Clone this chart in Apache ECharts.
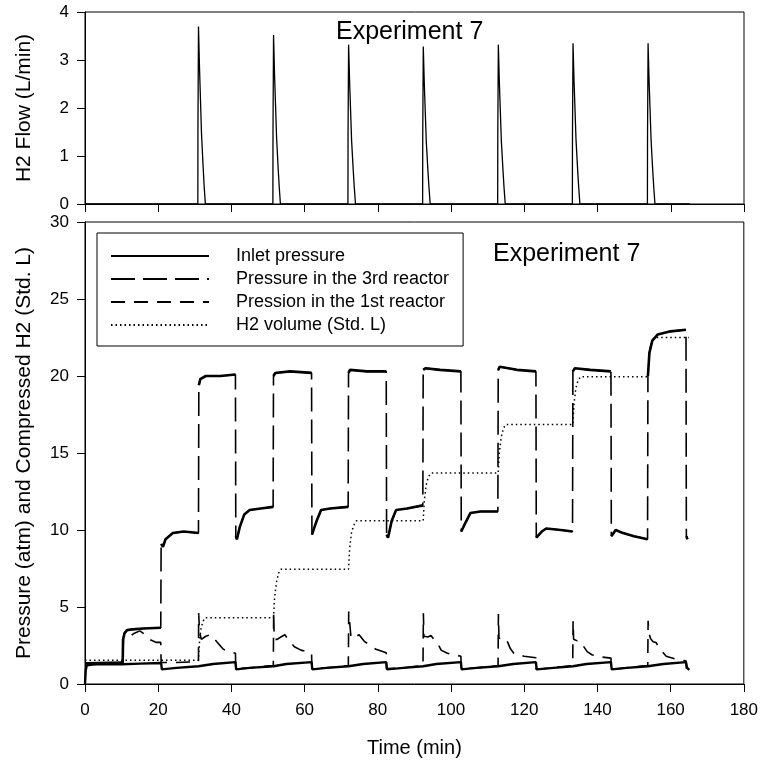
<!DOCTYPE html>
<html>
<head>
<meta charset="utf-8">
<script src="https://cdn.jsdelivr.net/npm/echarts@6/dist/echarts.min.js"></script>
<style>
  html, body { margin: 0; padding: 0; background: #fff; }
  #chart { width: 761px; height: 763px; }
</style>
</head>
<body>
<div id="chart"></div>
<script>
/*
 Experiment 7 : H2 flow (top) and pressures / compressed H2 (bottom)
 all points are [time (min), value]
*/

var xTicks = [0, 20, 40, 60, 80, 100, 120, 140, 160, 180];

// top panel, H2 flow (L/min)
var flowPoints = [
    [0, 0], [30.82, 0], [30.85, 1.55], [31.0, 3.7], [31.27, 2.86], [31.55, 2.15], [31.82, 1.47], [32.27, 0.77], [32.55, 0.36], [32.82, 0.33], [32.88, 0],
    [51.32, 0], [51.35, 1.5], [51.5, 3.52], [51.77, 2.7], [52.05, 2.05], [52.32, 1.4], [52.77, 0.73], [53.05, 0.36], [53.32, 0.33], [53.38, 0],
    [71.82, 0], [71.85, 1.45], [72.0, 3.32], [72.27, 2.56], [72.55, 1.93], [72.82, 1.32], [73.27, 0.7], [73.55, 0.35], [73.82, 0.33], [73.88, 0],
    [92.22, 0], [92.25, 1.4], [92.4, 3.28], [92.67, 2.52], [92.95, 1.9], [93.22, 1.3], [93.67, 0.69], [93.95, 0.35], [94.22, 0.33], [94.28, 0],
    [112.72, 0], [112.75, 1.4], [112.9, 3.32], [113.17, 2.55], [113.45, 1.92], [113.72, 1.32], [114.17, 0.7], [114.45, 0.35], [114.72, 0.33], [114.78, 0],
    [133.12, 0], [133.15, 1.4], [133.3, 3.35], [133.57, 2.58], [133.85, 1.95], [134.12, 1.33], [134.57, 0.7], [134.85, 0.35], [135.12, 0.33], [135.18, 0],
    [153.62, 0], [153.65, 1.4], [153.8, 3.35], [154.07, 2.58], [154.35, 1.95], [154.62, 1.33], [155.07, 0.7], [155.35, 0.35], [155.62, 0.33], [155.68, 0],
    [165.2, 0]
];

// bottom panel
var inletPoints = [
    [0, 0], [0.2, 0.9], [0.5, 1.22], [2, 1.26], [5, 1.3], [10, 1.28], [15, 1.32], [20.8, 1.36],
    [21.0, 0.95], [25, 1.05], [31, 1.15], [35, 1.3], [41.1, 1.42],
    [41.3, 0.95], [45, 1.05], [51.5, 1.15], [55, 1.3], [61.9, 1.42],
    [62.1, 0.95], [66, 1.05], [72, 1.15], [76, 1.3], [82.3, 1.42],
    [82.5, 0.95], [87, 1.05], [92.4, 1.15], [96, 1.3], [102.7, 1.42],
    [102.9, 0.95], [107, 1.05], [112.9, 1.15], [117, 1.3], [123.2, 1.42],
    [123.4, 0.95], [128, 1.05], [133.3, 1.15], [137, 1.3], [143.7, 1.42],
    [143.9, 0.95], [148, 1.05], [153.8, 1.15], [158, 1.3], [164.2, 1.42],
    [164.5, 1.05], [165.1, 0.92]
];

var reactor3Points = [
    [0.3, 1.35], [10.3, 1.4], [10.4, 2.9], [10.8, 3.3], [11.5, 3.5], [13, 3.55], [16, 3.6], [20.7, 3.65],
    [20.8, 9.1], [21.3, 8.9], [22, 9.4], [24, 9.8], [27, 9.9], [31.0, 9.8],
    [31.1, 19.4], [31.5, 19.8], [33, 20.0], [37, 20.0], [41.1, 20.1],
    [41.2, 9.6], [41.5, 9.4], [42.3, 10.2], [43.5, 11.0], [45, 11.3], [48, 11.4], [51.4, 11.5],
    [51.5, 20.0], [52, 20.2], [56, 20.3], [61.9, 20.2],
    [62.0, 9.7], [62.3, 9.6], [63.3, 10.6], [64.5, 11.3], [67, 11.4], [71.9, 11.5],
    [72.0, 20.2], [72.4, 20.4], [77, 20.3], [82.3, 20.3],
    [82.4, 9.7], [82.8, 9.5], [83.8, 10.6], [85, 11.3], [88, 11.4], [92.3, 11.6],
    [92.4, 20.4], [93, 20.5], [97, 20.4], [102.7, 20.3],
    [102.8, 9.9], [103.2, 9.8], [104, 10.5], [105.3, 11.1], [108, 11.2], [112.8, 11.2],
    [112.9, 20.4], [113.3, 20.6], [118, 20.4], [123.2, 20.3],
    [123.3, 9.5], [123.8, 9.4], [124.8, 9.9], [126, 10.1], [130, 10.0], [133.2, 9.9],
    [133.3, 20.3], [133.8, 20.5], [138, 20.4], [143.7, 20.3],
    [143.8, 9.6], [144.3, 9.6], [145, 10.0], [147, 9.8], [150, 9.6], [153.7, 9.4],
    [153.8, 20.0], [154.2, 21.5], [155, 22.3], [156.5, 22.7], [160, 22.9], [164.2, 23.0],
    [164.3, 9.6], [164.6, 9.4]
];

var reactor1Points = [
    [0.3, 1.35], [10.3, 1.4], [10.5, 2.9], [12, 3.05], [13.5, 3.3], [15, 3.45], [16.5, 3.2], [18, 2.85], [19.5, 2.7], [20.7, 2.7],
    [20.8, 1.4], [25, 1.4], [31.0, 1.45],
    [31.05, 4.6], [31.3, 3.4], [31.8, 2.9], [33, 3.1], [34.4, 3.2], [36, 2.75], [37.6, 2.3], [38.5, 2.15], [41.1, 2.0],
    [41.2, 1.0], [45, 1.05], [51.45, 1.2],
    [51.55, 4.7], [51.7, 2.9], [52.5, 2.9], [53.5, 3.05], [54.6, 3.2], [55.5, 2.9], [57.2, 2.42], [59, 2.2], [61.9, 2.02],
    [62.0, 1.0], [66, 1.05], [71.95, 1.2],
    [72.05, 4.7], [72.7, 2.97], [73.8, 3.05], [74.9, 3.2], [76.3, 2.77], [77.7, 2.55], [79.5, 2.25], [82.3, 2.03],
    [82.4, 1.0], [87, 1.05], [92.35, 1.2],
    [92.45, 4.6], [92.6, 3.1], [93.7, 3.05], [94.5, 3.15], [95.3, 2.9], [96, 2.8], [97.3, 2.2], [99, 2.0], [102.7, 1.8],
    [102.8, 1.0], [107, 1.05], [112.85, 1.2],
    [112.95, 4.55], [113.1, 3.0], [114, 2.9], [115, 2.95], [115.5, 2.7], [116.2, 2.3], [117.3, 1.95], [120, 1.8], [123.2, 1.7],
    [123.3, 0.95], [128, 1.05], [133.25, 1.2],
    [133.35, 4.1], [133.5, 2.9], [134.5, 2.8], [135.5, 2.75], [136.2, 2.45], [137.2, 2.1], [138.5, 1.9], [140, 1.78], [143.7, 1.68],
    [143.8, 0.95], [148, 1.05], [153.75, 1.2],
    [153.85, 4.1], [154.1, 3.3], [154.5, 2.95], [155.2, 2.75], [156, 2.7], [157, 2.3], [158.8, 1.8], [161.6, 1.6], [164.2, 1.5],
    [164.3, 1.0]
];

var h2VolumePoints = [
    [0, 1.55], [31.0, 1.55], [31.3, 2.8], [31.7, 3.6], [32.2, 4.05], [32.8, 4.3], [51.5, 4.3],
    [51.8, 5.6], [52.3, 6.6], [52.9, 7.2], [53.5, 7.45], [72.0, 7.45],
    [72.3, 8.8], [72.8, 9.8], [73.4, 10.3], [74.2, 10.6], [92.4, 10.6],
    [92.7, 11.9], [93.2, 12.9], [93.8, 13.45], [94.6, 13.7], [112.9, 13.7],
    [113.2, 15.0], [113.7, 16.0], [114.3, 16.6], [115, 16.85], [133.3, 16.85],
    [133.6, 18.2], [134.1, 19.2], [134.7, 19.7], [135.4, 19.95], [153.8, 19.95],
    [154.1, 21.2], [154.5, 21.9], [155, 22.3], [155.6, 22.5], [165, 22.5]
];

var legendNames = ['Inlet pressure', 'Pressure in the 3rd reactor', 'Pression in the 1st reactor', 'H2 volume (Std. L)'];

var FONT = '"Liberation Sans", Arial, sans-serif';

// the noisy plateaus of the 3rd reactor look solid in the original:
// keep only the slow parts, break the line at the big jumps
function slowParts(points, jump){
    var out = [];
    for (var i = 0; i < points.length; i ++){
        if (i > 0 && Math.abs(points[i][1] - points[i - 1][1]) > jump)
            out.push([null, null]);
        out.push(points[i]);
    }
    return out;
}

function xAxisOf(idx, withLabels){
    return {
        type: 'value',
        gridIndex: idx,
        min: xTicks[0],
        max: xTicks[xTicks.length - 1],
        interval: xTicks[1] - xTicks[0],
        axisLine: {lineStyle: {color: '#000', width: 1}},
        axisTick: {show: true, inside: false, length: 8, lineStyle: {color: '#000'}},
        axisLabel: {show: withLabels, color: '#000', fontSize: 17, fontFamily: FONT, margin: 18},
        splitLine: {show: false},
        name: withLabels ? 'Time (min)' : '',
        nameLocation: 'middle',
        nameGap: 54,
        nameTextStyle: {color: '#000', fontSize: 20, fontFamily: FONT}
    };
}

function yAxisOf(idx, max, step, title){
    return {
        type: 'value',
        gridIndex: idx,
        min: 0,
        max: max,
        interval: step,
        axisLine: {show: true, lineStyle: {color: '#000', width: 1}},
        axisTick: {show: true, inside: false, length: 8, lineStyle: {color: '#000'}},
        axisLabel: {color: '#000', fontSize: 17, fontFamily: FONT, margin: 16},
        splitLine: {show: false},
        name: title,
        nameLocation: 'middle',
        nameGap: 50,
        nameTextStyle: {color: '#000', fontSize: 21, fontFamily: FONT}
    };
}

function lineSeries(name, points, axisIdx, dash, width){
    return {
        name: name,
        type: 'line',
        xAxisIndex: axisIdx,
        yAxisIndex: axisIdx,
        data: points,
        symbol: 'none',
        silent: true,
        color: '#000',
        connectNulls: false,
        lineStyle: {color: '#000', width: width, type: dash}
    };
}

var option = {
    animation: false,
    backgroundColor: '#fff',
    grid: [
        {left: 85, right: 17, top: 12, height: 192, show: true, borderColor: '#000', borderWidth: 1},
        {left: 85, right: 17, top: 222, height: 462, show: true, borderColor: '#000', borderWidth: 1}
    ],
    xAxis: [xAxisOf(0, false), xAxisOf(1, true)],
    yAxis: [
        yAxisOf(0, 4, 1, 'H2 Flow (L/min)'),
        yAxisOf(1, 30, 5, 'Pressure (atm) and Compressed H2 (Std. L)')
    ],
    legend: {
        data: legendNames,
        orient: 'vertical',
        left: 97,
        top: 233,
        selectedMode: false,
        itemWidth: 98,
        itemHeight: 14,
        itemGap: 5,
        padding: [14, 14, 12, 13],
        borderColor: '#000',
        borderWidth: 1,
        backgroundColor: '#fff',
        itemStyle: {opacity: 0},
        textStyle: {color: '#000', fontSize: 18, lineHeight: 18, fontFamily: FONT, padding: [0, 0, 0, 22]}
    },
    graphic: [
        {type: 'text', left: 336, top: 20, style: {text: 'Experiment 7', fontSize: 25, fontFamily: FONT, fill: '#000'}},
        {type: 'text', left: 493, top: 242, style: {text: 'Experiment 7', fontSize: 25, fontFamily: FONT, fill: '#000'}}
    ],
    series: [
        lineSeries('H2 Flow', flowPoints, 0, 'solid', 1.3),
        lineSeries(legendNames[0], inletPoints, 1, 'solid', 2.4),
        lineSeries(legendNames[1], reactor3Points, 1, [24, 8], 1.6),
        lineSeries(legendNames[1], slowParts(reactor3Points, 4), 1, 'solid', 2.6),
        lineSeries(legendNames[2], reactor1Points, 1, [14, 9], 1.6),
        lineSeries(legendNames[3], h2VolumePoints, 1, [1.5, 3], 1.5)
    ]
};

var chart = echarts.init(document.getElementById('chart'));
chart.setOption(option);
</script>
</body>
</html>
